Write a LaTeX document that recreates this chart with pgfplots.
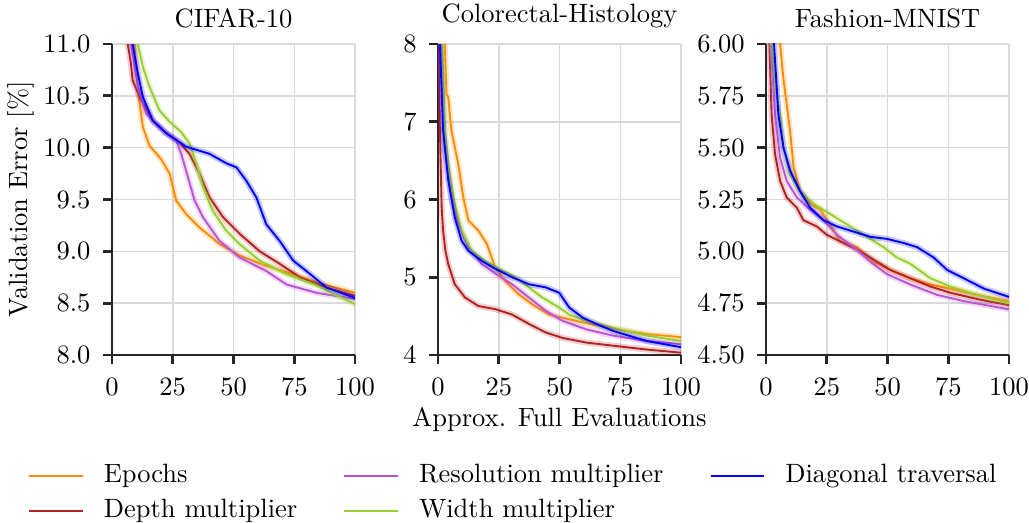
\documentclass[border=0pt]{standalone}
\usepackage{pgfplots}
\pgfplotsset{compat=1.18}
\definecolor{cE}{RGB}{255,140,0}
\definecolor{cD}{RGB}{178,34,34}
\definecolor{cR}{RGB}{186,85,211}
\definecolor{cW}{RGB}{154,205,50}
\definecolor{cT}{RGB}{0,0,255}
\definecolor{spine}{RGB}{38,38,38}
\definecolor{gridc}{RGB}{218,218,218}
\newcommand{\fs}{\fontsize{10.6}{12.7}\selectfont}
\newcommand{\curve}[2]{%
  \addplot[#1, draw opacity=0.22, line width=2.4pt, forget plot, line join=round] coordinates {#2};
  \addplot[#1, line width=0.75pt, forget plot, line join=round] coordinates {#2};}
\pgfplotsset{
  panel/.style={
    scale only axis, width=97.2pt, height=124.4pt,
    xmin=0, xmax=100, xtick={0,25,50,75,100},
    axis x line*=bottom, axis y line*=left,
    axis line style={spine, line width=1.1pt},
    tick style={spine, line width=1.1pt},
    major tick length=3.5pt, tick align=outside,
    grid=major, major grid style={gridc, line width=0.6pt},
    clip=true,
    /pgf/number format/assume math mode=true,
    font=\fs, tick label style={font=\fs}, label style={font=\fs},
    title style={font=\fs, yshift=-3.5pt},
    xticklabel style={inner sep=1.5pt, yshift=-3.8pt},
    yticklabel style={inner sep=1.5pt, xshift=-3.4pt},
    ylabel style={yshift=-1.7pt},
    xlabel style={yshift=0.8pt},
  }
}
\begin{document}
\fs
\begin{tikzpicture}
% ---------------- CIFAR-10
\begin{axis}[panel, at={(0pt,0pt)}, title={CIFAR-10},
  ymin=8, ymax=11, ytick={8,8.5,9,9.5,10,10.5,11},
  yticklabel style={/pgf/number format/.cd, fixed, fixed zerofill, precision=1},
  ylabel={Validation Error [\%]},
  legend columns=3,
  legend style={at={(1.658,-0.318)}, anchor=north, draw=none, fill=none,
    row sep=1.1pt, font=\fs,
    /tikz/every even column/.append style={column sep=16.5pt},
    /tikz/every odd column/.append style={column sep=6pt}},
  legend cell align=left,
  legend image code/.code={\draw[#1] (0pt,0pt) -- (21.5pt,0pt);}]
\addlegendimage{cE, line width=0.75pt}\addlegendentry{Epochs}
\addlegendimage{cR, line width=0.75pt}\addlegendentry{Resolution multiplier}
\addlegendimage{cT, line width=0.75pt}\addlegendentry{Diagonal traversal}
\addlegendimage{cD, line width=0.75pt}\addlegendentry{Depth multiplier}
\addlegendimage{cW, line width=0.75pt}\addlegendentry{Width multiplier}
\curve{cE}{(8,11.4)(9.5,10.9)(11,10.49)(12.7,10.2)(15.4,10.02)(20.2,9.89)(23.7,9.75)(26.4,9.49)(30.5,9.36)(36,9.23)(44.3,9.07)(52.5,8.96)(63.5,8.86)(71.8,8.80)(84.2,8.70)(100,8.60)}
\curve{cD}{(5.5,11.3)(6.5,11)(7.8,10.81)(8.5,10.65)(11.3,10.49)(16.8,10.26)(22.3,10.14)(27.8,10.05)(31.9,9.94)(36,9.75)(40.2,9.52)(45.7,9.33)(52.5,9.17)(60.8,9.0)(69,8.88)(77.3,8.75)(88.3,8.65)(100,8.57)}
\curve{cR}{(7,11.4)(8,11)(10.6,10.59)(14,10.33)(20.9,10.17)(26.4,10.07)(28.5,9.94)(31.2,9.72)(34,9.49)(37.4,9.33)(44.3,9.10)(52.5,8.94)(63.5,8.81)(71.8,8.68)(84.2,8.60)(100,8.54)}
\curve{cW}{(9.5,11.4)(10.6,11)(12.7,10.78)(15.4,10.59)(19.5,10.36)(23.7,10.25)(28.5,10.15)(31.9,10.04)(34.7,9.85)(37.4,9.62)(41.5,9.39)(47,9.2)(52.5,9.07)(60.8,8.91)(71.8,8.78)(84.2,8.67)(100,8.49)}
\curve{cT}{(7.5,11.4)(8.5,11)(10.6,10.72)(12.7,10.49)(16.8,10.26)(22.3,10.14)(30.5,10.01)(40.2,9.94)(47,9.85)(51.2,9.81)(55.3,9.68)(59.4,9.52)(63.5,9.26)(69,9.10)(74.6,8.91)(80,8.81)(88.3,8.65)(100,8.55)}
\end{axis}
% ---------------- Colorectal-Histology
\begin{axis}[panel, at={(130.4pt,0pt)}, title={Colorectal-Histology},
  ymin=4, ymax=8, ytick={4,5,6,7,8},
  xlabel={Approx. Full Evaluations}]
\curve{cE}{(2.2,8.6)(2.8,8)(3.5,7.35)(4.2,7.32)(5.5,6.89)(8.3,6.46)(10.4,6.03)(12.5,5.73)(16.6,5.6)(20.1,5.43)(23.5,5.13)(27.7,4.95)(33.2,4.78)(38.8,4.65)(45.7,4.52)(51.2,4.48)(62.3,4.40)(73.4,4.33)(85.9,4.27)(100,4.23)}
\curve{cD}{(0.1,8.6)(0.3,8)(0.7,7.0)(1.1,6.46)(1.5,5.9)(2.1,5.6)(3,5.35)(4.2,5.17)(6.9,4.91)(11.1,4.74)(16.6,4.63)(23.5,4.59)(30.5,4.52)(37.4,4.40)(44.3,4.29)(51.2,4.22)(61,4.16)(72,4.12)(85.9,4.07)(100,4.03)}
\curve{cR}{(0.8,8.6)(1.1,8)(2.8,6.68)(5.5,6.03)(8.3,5.69)(12.5,5.38)(18,5.17)(24.9,5.02)(30.5,4.91)(37.4,4.74)(44.3,4.57)(51.2,4.44)(61,4.33)(72,4.25)(85.9,4.18)(100,4.14)}
\curve{cW}{(1.3,8.6)(1.7,8)(2.8,6.89)(4.2,6.46)(6.9,5.94)(9.7,5.6)(13.9,5.34)(19.4,5.21)(24.9,5.11)(31.9,5.0)(37.4,4.87)(42.9,4.74)(49.9,4.61)(54,4.52)(61,4.44)(72,4.35)(85.9,4.25)(100,4.18)}
\curve{cT}{(0.5,8.6)(0.8,8)(2.1,6.89)(4.2,6.25)(6.9,5.77)(9.7,5.47)(12.5,5.34)(18,5.21)(23.5,5.11)(30.5,5.0)(37.4,4.91)(44.3,4.87)(49.9,4.80)(54,4.61)(59.6,4.48)(65.1,4.40)(72,4.31)(85.9,4.18)(100,4.10)}
\end{axis}
% ---------------- Fashion-MNIST
\begin{axis}[panel, at={(261.6pt,0pt)}, title={Fashion-MNIST},
  ymin=4.5, ymax=6, ytick={4.5,4.75,5,5.25,5.5,5.75,6},
  yticklabel style={/pgf/number format/.cd, fixed, fixed zerofill, precision=2}]
\curve{cE}{(5,6.3)(5.8,6)(7.2,5.83)(8.5,5.71)(9.9,5.58)(11.3,5.41)(14,5.29)(18.2,5.23)(22.3,5.20)(26.4,5.13)(30.5,5.05)(37.4,5.02)(44.3,4.95)(51.2,4.91)(59.4,4.87)(67.7,4.84)(75.9,4.82)(86.9,4.79)(100,4.76)}
\curve{cD}{(1,6.3)(1.4,6)(2.3,5.66)(3.7,5.47)(5.8,5.34)(8.5,5.26)(12.7,5.21)(15.4,5.15)(20.9,5.12)(25,5.08)(31.9,5.04)(38.8,5.0)(44.3,4.96)(51.2,4.91)(59.4,4.87)(67.7,4.83)(75.9,4.80)(86.9,4.77)(100,4.74)}
\curve{cR}{(1.5,6.3)(1.9,6)(3.7,5.66)(5.8,5.45)(8.5,5.34)(12.7,5.26)(18.2,5.20)(23.7,5.15)(29.2,5.08)(36,5.02)(42.9,4.95)(49.8,4.89)(59.4,4.84)(70.4,4.79)(81.4,4.76)(100,4.72)}
\curve{cW}{(1.8,6.3)(2.3,6)(4.4,5.75)(5.8,5.66)(7.2,5.50)(9.9,5.37)(14,5.29)(19.5,5.23)(26.4,5.18)(33.3,5.13)(40.2,5.08)(48.4,5.02)(53.9,4.97)(59.4,4.94)(67.7,4.87)(75.9,4.83)(86.9,4.79)(100,4.75)}
\curve{cT}{(2.6,6.3)(3.3,6)(5.1,5.66)(7.2,5.5)(9.9,5.39)(14,5.29)(18.2,5.21)(23.7,5.15)(29.2,5.12)(34.7,5.10)(42.9,5.07)(49.8,5.06)(56.7,5.04)(62.2,5.02)(69,4.97)(74.6,4.91)(81.4,4.87)(89.7,4.82)(100,4.78)}
\end{axis}
\pgfresetboundingbox
\useasboundingbox (-44.8pt,-66.8pt) rectangle (366.8pt,142pt);
\end{tikzpicture}
\end{document}
